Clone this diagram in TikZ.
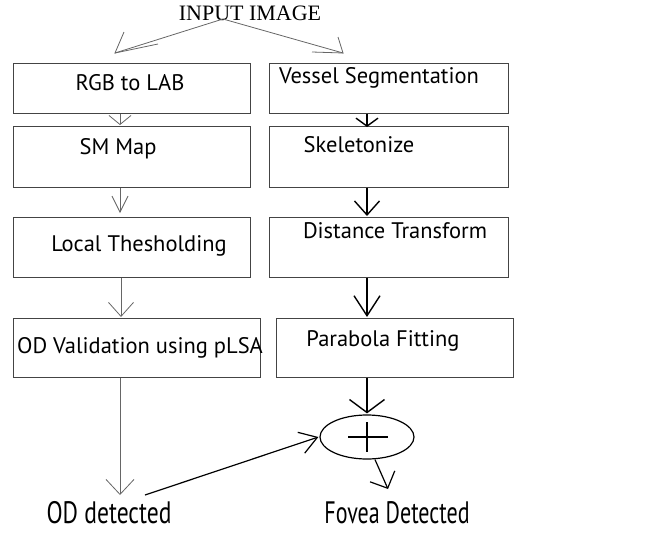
\documentclass[tikz,border=0pt]{standalone}
\usepackage{fontspec}
\setmainfont{PT Sans}
\newfontfamily\capsfont{Liberation Serif}
\usetikzlibrary{arrows.meta,shapes.geometric}
\definecolor{boxline}{HTML}{444444}
\definecolor{thinline}{HTML}{666666}
\begin{document}
\begin{tikzpicture}[x=1pt,y=-1pt,
  stepbox/.style={draw=boxline,line width=0.9pt,inner sep=0pt,anchor=north west},
  steptext/.style={font=\fontsize{22.5}{26}\selectfont,inner sep=0pt,anchor=center},
  thinarrow/.style={draw=thinline,line width=0.8pt},
  thickarrow/.style={draw=black,line width=1.4pt},
  bigtext/.style={font=\fontsize{31}{34}\selectfont,inner sep=0pt,anchor=center}]
\useasboundingbox (0,0) rectangle (651,533);

% title
\node[font=\capsfont\fontsize{22}{25}\selectfont,inner sep=0pt] (input) at (250,13) {INPUT IMAGE};
\coordinate (apex) at (223,19);

% left column boxes
\node[stepbox,minimum width=237pt,minimum height=50pt] (l1) at (13,63) {};
\node[stepbox,minimum width=237pt,minimum height=61pt] (l2) at (13,126) {};
\node[stepbox,minimum width=237pt,minimum height=60pt] (l3) at (13,217) {};
\node[stepbox,minimum width=247pt,minimum height=59pt] (l4) at (13,318) {};
% right column boxes
\node[stepbox,minimum width=239pt,minimum height=50pt] (r1) at (269,63) {};
\node[stepbox,minimum width=239pt,minimum height=61pt] (r2) at (269,126) {};
\node[stepbox,minimum width=239pt,minimum height=60pt] (r3) at (269,217) {};
\node[stepbox,minimum width=237pt,minimum height=59pt] (r4) at (276,318) {};

% box captions
\node[steptext] (tl1) at (130,83) {RGB to LAB};
\node[steptext] (tl2) at (118,149) {SM Map};
\node[steptext] (tl3) at (139,246) {Local Thesholding};
\node[steptext] (tl4) at (140,348) {OD Validation using pLSA};
\node[steptext] (tr1) at (379,78) {Vessel Segmentation};
\node[steptext] (tr2) at (359,145) {Skeletonize};
\node[steptext] (tr3) at (395,231) {Distance Transform};
\node[steptext] (tr4) at (383,341) {Parabola Fitting};

% results
\node[bigtext] (od) at (109,513) {\scalebox{0.76}[1]{OD detected}};
\node[bigtext] (fovea) at (397,513) {\scalebox{0.71}[1]{Fovea Detected}};

% summing junction
\node[draw,line width=1.2pt,ellipse,minimum width=94pt,minimum height=44pt,inner sep=0pt] (sum) at (367,437) {};
\draw[line width=1.2pt] ([xshift=-19pt]sum.center) -- ([xshift=21pt]sum.center);
\draw[line width=1.2pt] ([yshift=15pt]sum.center) -- ([yshift=-15pt]sum.center);

% split from the input
\coordinate (tipL) at (115,53);
\coordinate (tipR) at (343,53);
\draw[thinarrow] (apex) -- (tipL) -- ++(9,-21);
\draw[thinarrow] (tipL) -- ++(43,-9);
\draw[thinarrow] (apex) -- (tipR) -- ++(-5,-16);
\draw[thinarrow] (tipR) -- ++(-31,-1);

% column axes of the connectors
\coordinate (lx) at (120,0);
\coordinate (lx3) at (121,0);
\coordinate (rx) at (367,0);

% left chain
\draw[thinarrow,-{Straight Barb[length=9pt,width=22pt]}] (l1.south -| lx) -- ([yshift=1pt]l2.north -| lx);
\draw[thinarrow,-{Straight Barb[length=16pt,width=16pt]}] (l2.south -| lx) -- ([yshift=4pt]l3.north -| lx);
\draw[thinarrow,-{Straight Barb[length=14pt,width=25pt]}] (l3.south -| lx3) -- ([yshift=1pt]l4.north -| lx3);
\coordinate (odtip) at (120,495);
\draw[thinarrow,-{Straight Barb[length=15pt,width=28pt]}] (l4.south -| odtip) -- (odtip);

% right chain
\draw[thickarrow,-{Straight Barb[length=8pt,width=22pt]}] (r1.south -| rx) -- ([yshift=-1pt]r2.north -| rx);
\draw[thickarrow,-{Straight Barb[length=14pt,width=25pt]}] (r2.south -| rx) -- ([yshift=1pt]r3.north -| rx);
\draw[thickarrow,-{Straight Barb[length=20pt,width=26pt]}] (r3.south -| rx) -- ([yshift=1pt]r4.north -| rx);
\draw[thickarrow,-{Straight Barb[length=13pt,width=35pt]}] (r4.south -| sum.north) -- ([yshift=1pt]sum.north);

% combining the two results
\coordinate (odstart) at (145,495);
\draw[thickarrow,line width=1.2pt,-{Straight Barb[length=17pt,width=22pt]}] (odstart) -- ([xshift=-1pt]sum.west);
\coordinate (fovtip) at (388,489);
\draw[thickarrow,line width=1.2pt,-{Straight Barb[length=13pt,width=27pt]}] ([xshift=8pt]sum.south) -- (fovtip);
\end{tikzpicture}
\end{document}
